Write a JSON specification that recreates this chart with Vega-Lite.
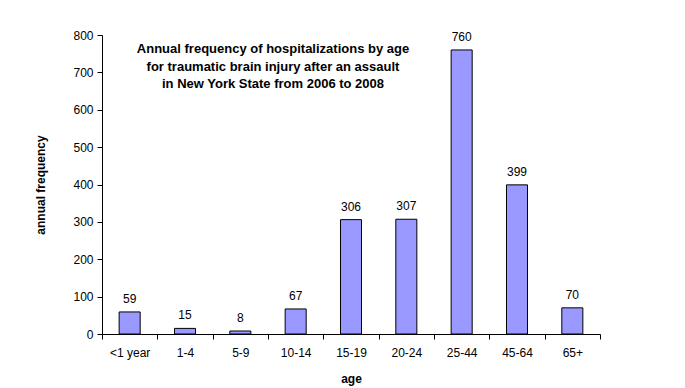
{
  "$schema": "https://vega.github.io/schema/vega-lite/v6.json",
  "width": 498,
  "height": 299,
  "autosize": "none",
  "padding": {"left": 102, "top": 35, "right": 85, "bottom": 54},
  "background": "white",
  "title": {
    "text": ["Annual frequency of hospitalizations by age", "for traumatic brain injury after an assault", "in New York State from 2006 to 2008"],
    "anchor": "middle",
    "dx": -78,
    "baseline": "top",
    "offset": -62,
    "font": "Liberation Sans",
    "fontSize": 13,
    "fontWeight": "bold",
    "lineHeight": 17.5,
    "color": "black"
  },
  "config": {
    "view": {"stroke": null},
    "font": "Liberation Sans",
    "axis": {
      "grid": false,
      "domainColor": "black",
      "tickColor": "black",
      "labelColor": "black",
      "labelFont": "Liberation Sans",
      "labelFontSize": 12,
      "titleFont": "Liberation Sans",
      "titleFontSize": 12,
      "titleFontWeight": "bold",
      "titleColor": "black",
      "domainWidth": 1,
      "tickWidth": 1
    }
  },
  "data": {
    "values": [
      {"age": "<1 year", "freq": 59},
      {"age": "1-4", "freq": 15},
      {"age": "5-9", "freq": 8},
      {"age": "10-14", "freq": 67},
      {"age": "15-19", "freq": 306},
      {"age": "20-24", "freq": 307},
      {"age": "25-44", "freq": 760},
      {"age": "45-64", "freq": 399},
      {"age": "65+", "freq": 70}
    ]
  },
  "encoding": {
    "x": {
      "field": "age",
      "type": "nominal",
      "sort": null,
      "scale": {"paddingInner": 0, "paddingOuter": 0},
      "axis": {"labelAngle": 0, "tickBand": "extent", "labelPadding": 8, "tickSize": 5, "title": "age", "titleY": 44, "titleBaseline": "middle"}
    },
    "y": {
      "field": "freq",
      "type": "quantitative",
      "scale": {"domain": [0, 800], "nice": false},
      "axis": {"values": [0, 100, 200, 300, 400, 500, 600, 700, 800], "tickSize": 5, "labelPadding": 4, "title": "annual frequency", "titleX": -62, "titleBaseline": "middle"}
    }
  },
  "layer": [
    {
      "mark": {"type": "bar", "width": {"band": 0.38}, "fill": "#9999FF", "stroke": "black", "strokeWidth": 1}
    },
    {
      "mark": {"type": "text", "baseline": "bottom", "dy": -6, "fontSize": 12, "color": "black", "font": "Liberation Sans"},
      "encoding": {"text": {"field": "freq", "type": "quantitative"}}
    }
  ]
}
